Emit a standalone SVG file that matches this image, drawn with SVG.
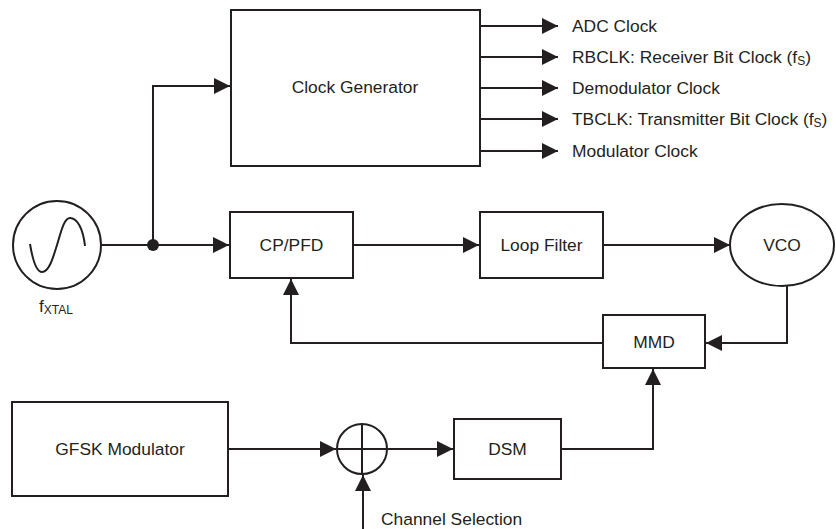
<svg xmlns="http://www.w3.org/2000/svg" width="836" height="529" viewBox="0 0 836 529">
<style>
.box{fill:#fff;stroke:#231f20;stroke-width:2}
.ln{fill:none;stroke:#231f20;stroke-width:2}
.t{font-family:"Liberation Sans",Arial,sans-serif;font-size:17.4px;fill:#231f20}
.m{text-anchor:middle}
.sub{font-size:12px}
</style>
<defs>
<marker id="ar" markerUnits="userSpaceOnUse" markerWidth="18" markerHeight="18" refX="16" refY="8" orient="auto" viewBox="0 0 18 16">
<path d="M0,0 L16,8 L0,16 Z" fill="#231f20"/>
</marker>
</defs>
<g id="connectors">
<path class="ln" d="M101,245 H229" marker-end="url(#ar)"/>
<path class="ln" d="M153,245 V86 H230" marker-end="url(#ar)"/>
<circle cx="153" cy="245" r="6" fill="#231f20"/>
<path class="ln" d="M480,26 H558" marker-end="url(#ar)"/>
<path class="ln" d="M480,57 H558" marker-end="url(#ar)"/>
<path class="ln" d="M480,88 H558" marker-end="url(#ar)"/>
<path class="ln" d="M480,119 H558" marker-end="url(#ar)"/>
<path class="ln" d="M480,151 H558" marker-end="url(#ar)"/>
<path class="ln" d="M353,245 H479" marker-end="url(#ar)"/>
<path class="ln" d="M603,245 H730" marker-end="url(#ar)"/>
<path class="ln" d="M787,286 V343 H706" marker-end="url(#ar)"/>
<path class="ln" d="M603,343 H291 V279" marker-end="url(#ar)"/>
<path class="ln" d="M561,449 H653 V369" marker-end="url(#ar)"/>
<path class="ln" d="M228,449 H336" marker-end="url(#ar)"/>
<path class="ln" d="M387,449 H453" marker-end="url(#ar)"/>
<path class="ln" d="M363,529 V475" marker-end="url(#ar)"/>
</g>
<g id="osc">
<circle cx="57" cy="245" r="44" class="ln"/>
<path class="ln" d="M30,244 C33,262 37,272 42,272 C49,272 53,258 57,245 C61,232 64,218 70,218 C77,218 83,228 85,246" stroke-width="1.8"/>
<text class="t" x="39" y="312">f<tspan class="sub" dy="2">XTAL</tspan></text>
</g>
<g id="clockgen">
<rect class="box" x="231" y="10" width="249" height="156"/>
<text class="t m" x="355" y="93">Clock Generator</text>
</g>
<g id="outputs">
<text class="t" x="572" y="32">ADC Clock</text>
<text class="t" x="572" y="63">RBCLK: Receiver Bit Clock (f<tspan class="sub" dy="2">S</tspan><tspan dy="-2">)</tspan></text>
<text class="t" x="572" y="94">Demodulator Clock</text>
<text class="t" x="572" y="125">TBCLK: Transmitter Bit Clock (f<tspan class="sub" dy="2">S</tspan><tspan dy="-2">)</tspan></text>
<text class="t" x="572" y="157">Modulator Clock</text>
</g>
<g id="cppfd">
<rect class="box" x="230" y="212" width="123" height="66"/>
<text class="t m" x="291.5" y="251">CP/PFD</text>
</g>
<g id="loopfilter">
<rect class="box" x="480" y="212" width="123" height="66"/>
<text class="t m" x="541.5" y="251">Loop Filter</text>
</g>
<g id="vco">
<ellipse class="box" cx="782" cy="245" rx="52" ry="41"/>
<text class="t m" x="782" y="251">VCO</text>
</g>
<g id="mmd">
<rect class="box" x="603" y="315" width="102" height="53"/>
<text class="t m" x="654" y="348">MMD</text>
</g>
<g id="gfsk">
<rect class="box" x="12" y="402" width="216" height="94"/>
<text class="t m" x="120" y="455">GFSK Modulator</text>
</g>
<g id="sum">
<circle class="box" cx="362" cy="449" r="25"/>
<path class="ln" d="M337,449 H387 M362,424 V474"/>
</g>
<g id="dsm">
<rect class="box" x="454" y="419" width="107" height="60"/>
<text class="t m" x="507.5" y="455">DSM</text>
</g>
<g id="chsel">
<text class="t" x="381" y="525">Channel Selection</text>
</g>
</svg>
